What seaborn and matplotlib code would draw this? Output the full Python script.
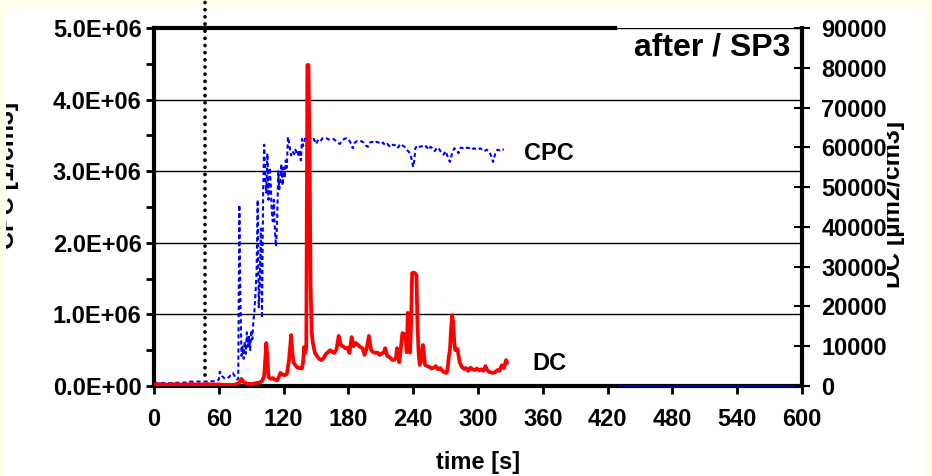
import numpy as np
import pandas as pd
import matplotlib
matplotlib.use("Agg")
import matplotlib.pyplot as plt
import matplotlib.ticker as mticker
from matplotlib.patches import Rectangle
from matplotlib.transforms import Bbox, TransformedBbox
import seaborn as sns

# ---------------- data ----------------
cpc_time = [0, 5, 10, 15, 20, 25, 30, 33, 38, 43, 48, 53, 58, 60, 61, 63, 65, 67, 69, 71, 73, 75, 77, 78,
            79, 80, 81, 82, 83, 84, 85, 86, 87, 88, 89, 90, 91, 92, 93, 94, 95, 96, 97, 98, 99, 100,
            101, 102, 103, 104, 105, 106, 107, 108, 109, 110, 111, 112, 113, 114, 115, 116, 117, 118,
            119, 120, 121, 122, 123, 124, 125, 126, 127, 128, 129, 130, 131, 132, 133, 134, 135, 136,
            137, 138, 139, 140,
            142, 144, 146, 148, 150, 152, 154, 156, 158, 160, 162, 164, 166, 168, 170, 172, 174, 176,
            178, 180, 182, 184, 186, 188, 190, 192, 194, 196, 198, 200, 202, 204, 206, 208, 210, 212,
            214, 216, 218, 220, 222, 224, 226, 228, 230, 232, 234, 236, 238, 240, 241, 242, 244, 246,
            248, 250, 252, 254, 256, 258, 260, 262, 264, 266, 268, 270, 272, 274, 276, 278, 280, 282,
            284, 286, 288, 290, 292, 294, 296, 298, 300, 302, 304, 306, 308, 310, 312, 314, 316, 318,
            320, 322, 324]
cpc_million = [0.04, 0.04, 0.042, 0.04, 0.045, 0.045, 0.05, 0.06, 0.06, 0.062, 0.062, 0.065, 0.068, 0.09,
               0.20, 0.14, 0.11, 0.10, 0.12, 0.15, 0.18, 0.13, 0.09, 0.10,
               2.53, 1.2, 0.42, 0.55, 0.38, 0.62, 0.45, 0.75, 0.55, 0.70, 0.50, 0.78, 0.65, 0.90, 1.05,
               1.30, 1.60, 2.60, 1.10, 1.50, 2.20, 0.95,
               2.65, 3.37, 2.95, 2.70, 3.25, 2.60, 3.05, 2.85, 2.45, 2.30, 2.60, 2.15, 1.95, 2.30, 3.00,
               2.75, 2.90, 3.10, 2.80, 3.05, 2.90, 3.15, 3.05, 3.48, 3.40, 3.30, 3.22, 3.28, 3.26, 3.24,
               3.30, 3.25, 3.28, 3.20, 3.30, 3.15, 3.45, 3.35, 3.40, 3.47,
               3.46, 3.47, 3.43, 3.45, 3.38, 3.44, 3.42, 3.46, 3.45, 3.46, 3.44, 3.45, 3.45, 3.43, 3.40,
               3.38, 3.42, 3.45, 3.46, 3.45, 3.40, 3.32, 3.40, 3.42, 3.41, 3.42, 3.40, 3.36, 3.34, 3.40,
               3.41, 3.39, 3.41, 3.40, 3.38, 3.40, 3.36, 3.38, 3.35, 3.38, 3.36, 3.37, 3.33, 3.38, 3.36,
               3.34, 3.30, 3.27, 3.20, 3.06, 3.15, 3.32, 3.36, 3.34, 3.35, 3.33, 3.35, 3.30, 3.34, 3.32,
               3.28, 3.33, 3.31, 3.26, 3.23, 3.28, 3.20, 3.13, 3.25, 3.32, 3.30, 3.25, 3.33, 3.32, 3.31,
               3.33, 3.32, 3.30, 3.32, 3.31, 3.30, 3.32, 3.30, 3.28, 3.30, 3.28, 3.22, 3.13, 3.25, 3.30,
               3.29, 3.31, 3.30]

dc_time = [0, 5, 10, 15, 20, 25, 30, 35, 40, 45, 50, 55, 60, 65, 70, 74, 78, 80, 81, 83, 86, 90, 94, 98,
           100, 102, 103, 104, 105, 106, 108, 110, 112, 114, 116, 117, 119, 121, 123, 125, 127, 128, 129,
           131, 133, 135, 137, 138, 139, 140, 141, 142, 143, 144, 145, 146, 147, 149, 151, 153, 155, 157,
           159, 161, 163, 165, 167, 169, 171, 173, 175, 177, 179, 181, 183, 185, 187, 189, 191, 193, 195,
           197, 199, 201, 203, 205, 207, 209, 211, 213, 214, 216, 218, 220, 222, 224, 225, 227, 228, 230,
           232, 233, 234, 235, 236, 237, 238, 239, 241, 243, 244, 245, 246, 247, 249, 250, 251, 253, 255,
           257, 259, 261, 263, 265, 267, 269, 271, 272, 273, 274, 275, 276, 277, 278, 279, 281, 283, 285,
           287, 289, 291, 293, 295, 297, 299, 301, 303, 305, 307, 308, 310, 312, 314, 316, 318, 320, 322,
           324, 326, 327]
dc_values = [400, 450, 350, 400, 450, 350, 400, 450, 350, 400, 450, 350, 400, 300, 250, 300, 600, 1200,
             1800, 1000, 600, 500, 700, 900, 1200, 2500, 6500, 10800, 7000, 2300, 1800, 2000, 1600, 1400,
             2500, 3300, 2900, 2700, 3000, 6500, 12800, 9000, 6000, 5200, 4600, 4500, 4400, 6000, 9800,
             8300, 9500, 80700, 80700, 60000, 25000, 13600, 11000, 8300, 7500, 6800, 6500, 7000, 8000,
             8500, 9000, 8600, 8300, 9200, 12600, 10300, 10000, 9500, 9600, 8300, 12300, 10000, 10800,
             10300, 9800, 9500, 7800, 9500, 12600, 9000, 8500, 8300, 8400, 7800, 8200, 8500, 9500, 7500,
             7300, 6700, 6500, 7000, 9500, 6000, 8000, 13300, 13000, 12300, 8500, 18400, 12000, 8400,
             15000, 28400, 28500, 27900, 15000, 8300, 5300, 6000, 10300, 8000, 5300, 5000, 4800, 4400,
             4600, 5000, 4200, 4500, 3800, 3400, 3300, 4500, 7500, 9000, 14000, 17800, 16000, 11000, 9000,
             9300, 6000, 4800, 4300, 4500, 3800, 4600, 4200, 4000, 4400, 3900, 4200, 3800, 5000, 4200,
             3600, 3400, 3300, 3500, 4000, 3800, 5200, 4500, 6500, 5800]

baseline_time = [430, 600]
baseline_values = [0, 0]

x_ticks = list(range(0, 601, 60))
left_ticks = [0, 1e6, 2e6, 3e6, 4e6, 5e6]
right_ticks = list(range(0, 90001, 10000))
marker_time = 47

cpc_df = pd.DataFrame({"time": cpc_time, "cpc": np.array(cpc_million) * 1e6})
dc_df = pd.DataFrame({"time": dc_time, "dc": dc_values})

# ---------------- figure ----------------
sns.set_theme(style="white")
plt.rcParams["font.family"] = ["Liberation Sans", "DejaVu Sans"]
plt.rcParams["font.weight"] = "bold"

W, H = 932, 476
fig = plt.figure(figsize=(W / 100, H / 100), dpi=100, facecolor="#FFFFEA")
fig.patches.append(Rectangle((6 / W, 0), (925 - 6) / W, (H - 8) / H, transform=fig.transFigure,
                             facecolor="white", edgecolor="none", zorder=-10))

ax = fig.add_axes([154 / W, (H - 386) / H, 648 / W, 358 / H])
ax.set_facecolor("white")

sns.lineplot(data=cpc_df, x="time", y="cpc", ax=ax, color="#0000FF", lw=1.5, estimator=None)
ax.lines[-1].set_linestyle((0, (2, 1.4)))
ax.plot(baseline_time, baseline_values, color="#0000CC", lw=1.2, clip_on=False, zorder=3)

ax.set_xlim(0, 600)
ax.set_ylim(0, 5e6)
ax.set_xticks(x_ticks)
ax.set_yticks(left_ticks)
ax.yaxis.set_minor_locator(mticker.MultipleLocator(0.5e6))
ax.yaxis.set_major_formatter(mticker.FuncFormatter(lambda v, p: f"{v:.1E}"))
ax.tick_params(axis="y", which="both", direction="out", length=6, width=2, labelsize=17, pad=3,
               left=True, colors="black")
ax.tick_params(axis="x", direction="out", length=6, width=2, labelsize=17, pad=10, bottom=True,
               colors="black")
ax.set_xlabel("")
ax.set_ylabel("")
ax.grid(False)
ax.yaxis.grid(True, which="major", color="black", lw=1)

for s in ["left", "bottom", "top"]:
    ax.spines[s].set_visible(True)
    ax.spines[s].set_color("black")
    ax.spines[s].set_linewidth(3)
ax.spines["top"].set_bounds(0, 427)
ax.spines["right"].set_visible(False)

ax2 = ax.twinx()
sns.lineplot(data=dc_df, x="time", y="dc", ax=ax2, color="#FF0000", lw=2.7, estimator=None)
ax2.set_ylim(0, 90000)
ax2.set_yticks(right_ticks)
ax2.yaxis.set_major_formatter(mticker.FuncFormatter(lambda v, p: f"{int(v)}"))
ax2.tick_params(axis="y", direction="inout", length=12, width=1.5, labelsize=17, pad=8, right=True,
                colors="black")
ax2.set_ylabel("")
ax2.grid(False)
for s in ["left", "bottom", "top"]:
    ax2.spines[s].set_visible(False)
ax2.spines["right"].set_visible(True)
ax2.spines["right"].set_color("black")
ax2.spines["right"].set_linewidth(3)

ax2.plot([marker_time, marker_time], [0.031, 1.078], transform=ax2.get_xaxis_transform(),
         clip_on=False, color="black", lw=2.7, linestyle=(0, (0.01, 1.9)), dash_capstyle="round",
         zorder=4)

ax.text(366, 3.25e6, "CPC", ha="center", va="center", fontsize=17, fontweight="bold", color="black")
ax.text(366, 0.31e6, "DC", ha="center", va="center", fontsize=17, fontweight="bold", color="black")

fig.text(712 / W, 1 - 48 / H, "after / SP3", ha="center", va="center", fontsize=23,
         fontweight="bold", color="black")
fig.text(478 / W, 1 - 463 / H, "time [s]", ha="center", va="center", fontsize=17,
         fontweight="bold", color="black")

t1 = fig.text(19 / W, 1 - 175 / H, "CPC [1/cm3]", rotation=90, ha="right", va="center",
              fontsize=18, fontweight="bold", color="black")
t1.set_clip_box(TransformedBbox(Bbox([[6 / W, 0], [1, 1]]), fig.transFigure))
t1.set_clip_on(True)

t2 = fig.text(905 / W, 1 - 205 / H, "DC [µm2/cm3]", rotation=90, ha="right", va="center",
              fontsize=18, fontweight="bold", color="black")
t2.set_clip_box(TransformedBbox(Bbox([[887 / W, 0], [1, 1]]), fig.transFigure))
t2.set_clip_on(True)

fig.savefig("out.png", dpi=100, facecolor=fig.get_facecolor())
